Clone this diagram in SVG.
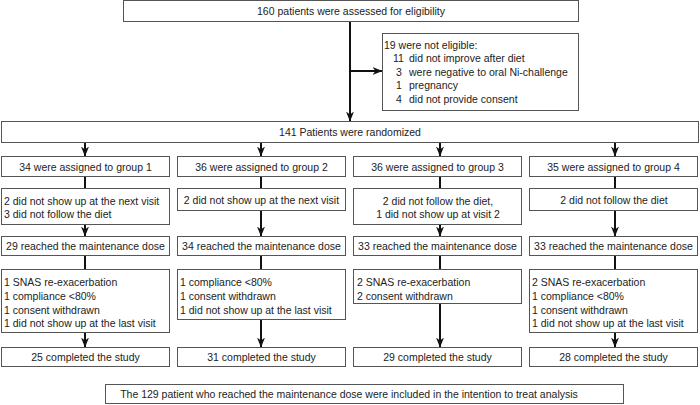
<svg xmlns="http://www.w3.org/2000/svg" width="700" height="405" viewBox="0 0 700 405">
<style>
.box{fill:#fff;stroke:#555;stroke-width:1}
text{font-family:"Liberation Sans",Arial,sans-serif;font-size:10.5px;fill:#222}
.c{text-anchor:middle}
.ln{stroke:#111;stroke-width:2;fill:none}
.ar{stroke:#111;stroke-width:2;fill:none;marker-end:url(#ah)}
</style>
<defs>
<marker id="ah" markerUnits="userSpaceOnUse" markerWidth="10" markerHeight="10" viewBox="0 0 10 10" refX="9.5" refY="5" orient="auto">
<path d="M0,1 L10,5 L0,9 L3,5 Z" fill="#111"/>
</marker>
</defs>
<rect width="700" height="405" fill="#fff"/>
<g id="connectors">
<line class="ar" x1="350" y1="22" x2="350" y2="121"/>
<line class="ar" x1="350" y1="71" x2="382" y2="71"/>
<line class="ar" x1="85" y1="143" x2="85" y2="156"/>
<line class="ar" x1="261" y1="143" x2="261" y2="156"/>
<line class="ar" x1="440" y1="143" x2="440" y2="156"/>
<line class="ar" x1="615" y1="143" x2="615" y2="156"/>
<line class="ln" x1="85" y1="177" x2="85" y2="188"/>
<line class="ln" x1="261" y1="177" x2="261" y2="188"/>
<line class="ln" x1="440" y1="177" x2="440" y2="188"/>
<line class="ln" x1="615" y1="177" x2="615" y2="188"/>
<line class="ar" x1="85" y1="225" x2="85" y2="236"/>
<line class="ar" x1="261" y1="211" x2="261" y2="236"/>
<line class="ar" x1="440" y1="225" x2="440" y2="236"/>
<line class="ar" x1="615" y1="211" x2="615" y2="236"/>
<line class="ln" x1="85" y1="256" x2="85" y2="269"/>
<line class="ln" x1="261" y1="256" x2="261" y2="269"/>
<line class="ln" x1="440" y1="256" x2="440" y2="269"/>
<line class="ln" x1="615" y1="256" x2="615" y2="269"/>
<line class="ar" x1="85" y1="333" x2="85" y2="347"/>
<line class="ar" x1="261" y1="320" x2="261" y2="347"/>
<line class="ar" x1="440" y1="304" x2="440" y2="347"/>
<line class="ar" x1="615" y1="333" x2="615" y2="347"/>
</g>
<g id="assessed"><rect class="box" x="123.5" y="0.5" width="455" height="21"/><text class="c" x="351" y="15">160 patients were assessed for eligibility</text></g>
<g id="excluded"><rect class="box" x="382.5" y="33.5" width="196" height="77"/>
<text x="384" y="48.5">19 were not eligible:</text>
<text x="393" y="62">11</text><text x="409" y="62">did not improve after diet</text>
<text x="396" y="75.5">3</text><text x="409" y="75.5">were negative to oral Ni-challenge</text>
<text x="396" y="89">1</text><text x="409" y="89">pregnancy</text>
<text x="396" y="102.5">4</text><text x="409" y="102.5">did not provide consent</text>
</g>
<g id="randomized"><rect class="box" x="1.5" y="121.5" width="697" height="21"/><text class="c" x="350" y="136">141 Patients were randomized</text></g>
<g id="g1-assigned"><rect class="box" x="1.5" y="156.5" width="168" height="20"/><text class="c" x="85.5" y="170.5">34 were assigned to group 1</text></g>
<g id="g2-assigned"><rect class="box" x="177.5" y="156.5" width="168" height="20"/><text class="c" x="261.5" y="170.5">36 were assigned to group 2</text></g>
<g id="g3-assigned"><rect class="box" x="353.5" y="156.5" width="168" height="20"/><text class="c" x="437.5" y="170.5">36 were assigned to group 3</text></g>
<g id="g4-assigned"><rect class="box" x="529.5" y="156.5" width="168" height="20"/><text class="c" x="613.5" y="170.5">35 were assigned to group 4</text></g>
<g id="g1-drop1"><rect class="box" x="1.5" y="188.5" width="168" height="36"/><text x="4" y="205">2 did not show up at the next visit</text><text x="4" y="218">3 did not follow the diet</text></g>
<g id="g2-drop1"><rect class="box" x="177.5" y="188.5" width="168" height="22"/><text class="c" x="261.5" y="203.5">2 did not show up at the next visit</text></g>
<g id="g3-drop1"><rect class="box" x="353.5" y="188.5" width="168" height="36"/><text class="c" x="438" y="205">2 did not follow  the diet,</text><text class="c" x="438" y="218">1 did not show up at visit 2</text></g>
<g id="g4-drop1"><rect class="box" x="529.5" y="188.5" width="168" height="22"/><text class="c" x="614" y="203.5">2 did not follow the diet</text></g>
<g id="g1-reached"><rect class="box" x="1.5" y="236.5" width="168" height="19"/><text class="c" x="85.5" y="250">29 reached the maintenance dose</text></g>
<g id="g2-reached"><rect class="box" x="177.5" y="236.5" width="168" height="19"/><text class="c" x="261.5" y="250">34 reached the maintenance dose</text></g>
<g id="g3-reached"><rect class="box" x="353.5" y="236.5" width="168" height="19"/><text class="c" x="437.5" y="250">33 reached the maintenance dose</text></g>
<g id="g4-reached"><rect class="box" x="529.5" y="236.5" width="168" height="19"/><text class="c" x="613.5" y="250">33 reached the maintenance dose</text></g>
<g id="g1-drop2"><rect class="box" x="1.5" y="269.5" width="168" height="63"/><text x="4" y="286">1 SNAS re-exacerbation</text><text x="4" y="300">1 compliance &lt;80%</text><text x="4" y="313.5">1 consent withdrawn</text><text x="4" y="327">1 did not show up at the last visit</text></g>
<g id="g2-drop2"><rect class="box" x="177.5" y="269.5" width="168" height="50"/><text x="180" y="286">1 compliance &lt;80%</text><text x="180" y="300">1 consent withdrawn</text><text x="180" y="313.5">1 did not show up at the last visit</text></g>
<g id="g3-drop2"><rect class="box" x="353.5" y="269.5" width="168" height="34"/><text x="357" y="286">2 SNAS re-exacerbation</text><text x="357" y="300">2 consent withdrawn</text></g>
<g id="g4-drop2"><rect class="box" x="529.5" y="269.5" width="168" height="63"/><text x="532" y="286">2 SNAS re-exacerbation</text><text x="532" y="300">1 compliance &lt;80%</text><text x="532" y="313.5">1 consent withdrawn</text><text x="532" y="327">1 did not show up at the last visit</text></g>
<g id="g1-completed"><rect class="box" x="1.5" y="347.5" width="168" height="19"/><text class="c" x="85.5" y="361">25 completed the study</text></g>
<g id="g2-completed"><rect class="box" x="177.5" y="347.5" width="168" height="19"/><text class="c" x="261.5" y="361">31 completed the study</text></g>
<g id="g3-completed"><rect class="box" x="353.5" y="347.5" width="168" height="19"/><text class="c" x="437.5" y="361">29 completed the study</text></g>
<g id="g4-completed"><rect class="box" x="529.5" y="347.5" width="168" height="19"/><text class="c" x="613.5" y="361">28 completed the study</text></g>
<g id="itt"><rect class="box" x="105.5" y="384.5" width="518" height="19"/><text class="c" x="349" y="398">The 129 patient who reached the maintenance dose were included in the intention to treat analysis</text></g>
</svg>
